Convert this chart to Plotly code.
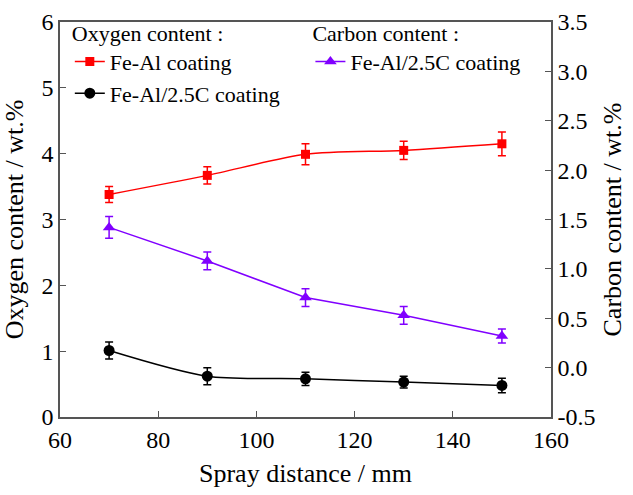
import plotly.graph_objects as go

x = [70, 90, 110, 130, 150]
oxy_feal = [3.38, 3.67, 3.99, 4.05, 4.15]
oxy_feal_err = [0.12, 0.13, 0.16, 0.14, 0.18]
oxy_fealc = [1.01, 0.62, 0.58, 0.53, 0.48]
oxy_fealc_err = [0.13, 0.13, 0.10, 0.09, 0.11]
carb_fealc = [1.42, 1.08, 0.71, 0.53, 0.32]
carb_fealc_err = [0.11, 0.09, 0.09, 0.09, 0.07]

FONT = "Liberation Serif"
AX = "#555555"

fig = go.Figure()
fig.add_trace(go.Scatter(
    x=x, y=oxy_feal, name="Fe-Al coating", mode="lines+markers",
    line=dict(color="#ff0000", width=1.5, shape="spline", smoothing=0.8),
    marker=dict(symbol="square", size=9, color="#ff0000"),
    error_y=dict(type="data", array=oxy_feal_err, color="#ff0000", thickness=1.5, width=4),
    legend="legend"))
fig.add_trace(go.Scatter(
    x=x, y=oxy_fealc, name="Fe-Al/2.5C coating", mode="lines+markers",
    line=dict(color="#000000", width=1.5, shape="spline", smoothing=0.8),
    marker=dict(symbol="circle", size=11, color="#000000"),
    error_y=dict(type="data", array=oxy_fealc_err, color="#000000", thickness=1.5, width=4),
    legend="legend"))
fig.add_trace(go.Scatter(
    x=x, y=carb_fealc, name="Fe-Al/2.5C coating", mode="lines+markers", yaxis="y2",
    line=dict(color="#8000ff", width=1.5),
    marker=dict(symbol="triangle-up", size=11, color="#8000ff"),
    error_y=dict(type="data", array=carb_fealc_err, color="#8000ff", thickness=1.5, width=4),
    legend="legend2"))

tf = dict(family=FONT, size=24, color="black")
ttl = dict(family=FONT, size=26, color="black")
lf = dict(family=FONT, size=22, color="black")

fig.update_layout(
    width=633, height=495,
    margin=dict(l=60, r=82, t=20, b=78),
    plot_bgcolor="white", paper_bgcolor="white",
    font=dict(family=FONT, size=23, color="black"),
    xaxis=dict(range=[60, 160], tickvals=[60, 80, 100, 120, 140, 160],
               ticks="inside", ticklen=6, tickcolor=AX, showline=True, linecolor=AX,
               linewidth=1.5, mirror=True, showgrid=False, zeroline=False,
               tickfont=tf, automargin=False,
               title=dict(text="Spray distance / mm", font=ttl, standoff=12)),
    yaxis=dict(range=[0, 6], tickvals=[0, 1, 2, 3, 4, 5, 6],
               ticks="inside", ticklen=6, tickcolor=AX, showline=True, linecolor=AX,
               linewidth=1.5, showgrid=False, zeroline=False, tickfont=tf, automargin=False,
               title=dict(text="Oxygen content / wt.%", font=ttl, standoff=10)),
    yaxis2=dict(range=[-0.5, 3.5], tickvals=[-0.5, 0, 0.5, 1, 1.5, 2, 2.5, 3, 3.5],
                ticktext=["-0.5", "0.0", "0.5", "1.0", "1.5", "2.0", "2.5", "3.0", "3.5"],
                overlaying="y", side="right", anchor="x", automargin=False,
                ticks="inside", ticklen=6, tickcolor=AX, showline=True, linecolor=AX,
                linewidth=1.5, showgrid=False, zeroline=False, tickfont=tf,
                title=dict(text="Carbon content / wt.%", font=ttl, standoff=8)),
    legend=dict(x=0.02, y=1.025, xanchor="left", yanchor="top", bgcolor="rgba(0,0,0,0)",
                font=lf, title=dict(text="Oxygen content :", font=lf),
                tracegroupgap=0, itemwidth=30),
    legend2=dict(x=0.51, y=1.025, xanchor="left", yanchor="top", bgcolor="rgba(0,0,0,0)",
                 font=lf, title=dict(text="Carbon content :", font=lf),
                 itemwidth=30),
)

fig.write_html("out.html")
